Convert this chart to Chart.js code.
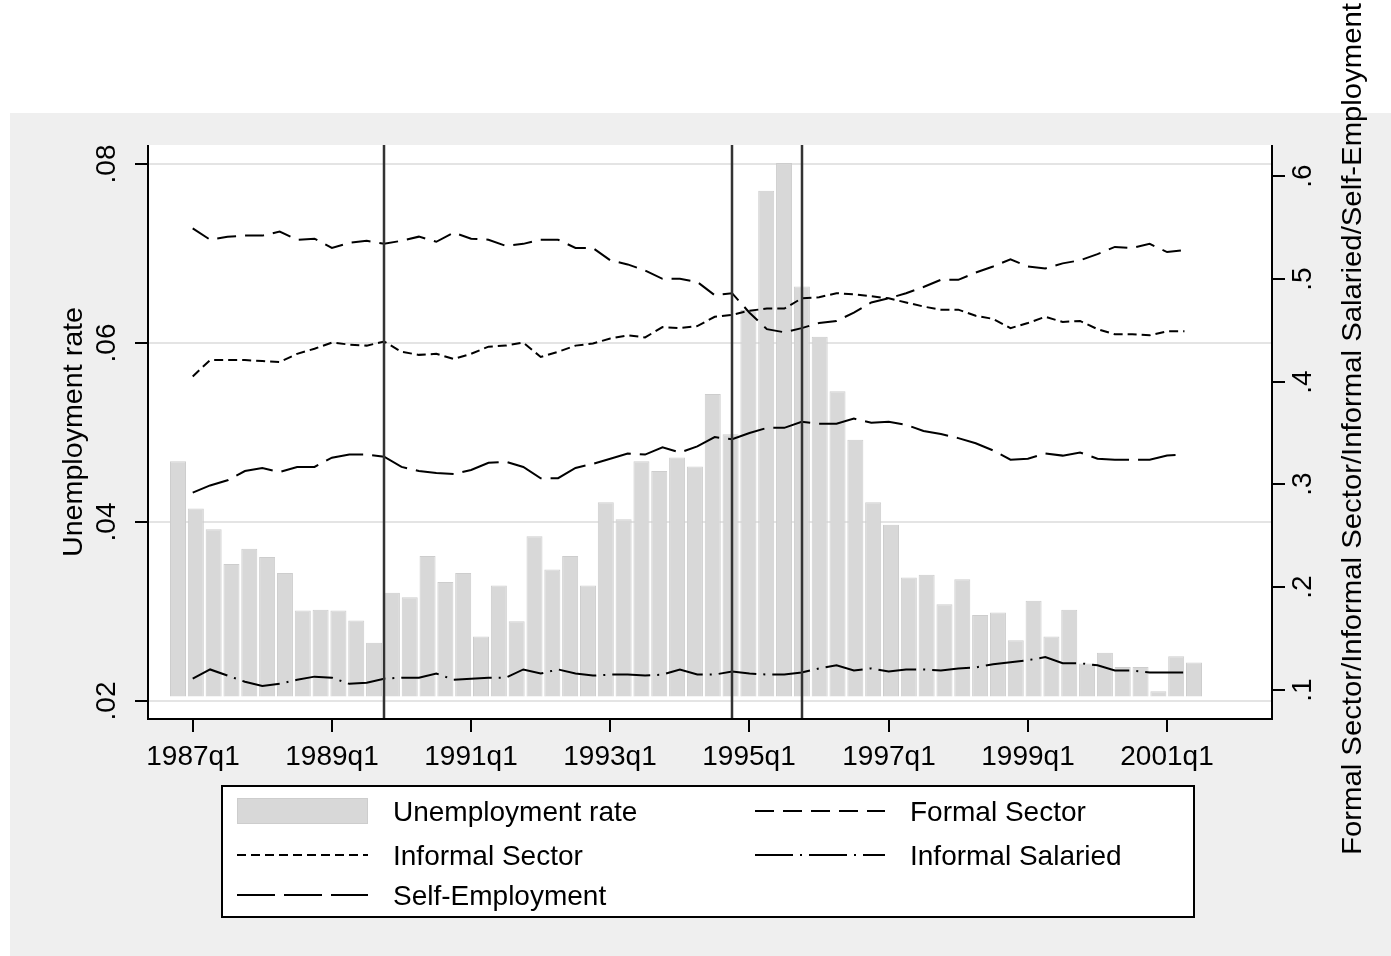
<!DOCTYPE html>
<html>
<head>
<meta charset="utf-8">
<title>Unemployment rate and employment shares</title>
<script src="https://cdn.jsdelivr.net/npm/chart.js@4.4.1/dist/chart.umd.min.js"></script>
<style>
  html, body { margin: 0; padding: 0; background: #ffffff; }
  canvas { display: block; }
</style>
</head>
<body>
<canvas id="chart" width="1391" height="956"></canvas>
<script>
// Quarterly unemployment rate (left axis), 1986q4 onwards
const unemploymentRate = [
  0.0468, 0.0415, 0.0392, 0.0353, 0.0370, 0.0361, 0.0343, 0.0301, 0.0302, 0.0301,
  0.0290, 0.0265, 0.0321, 0.0316, 0.0362, 0.0333, 0.0343, 0.0272, 0.0329, 0.0289,
  0.0384, 0.0347, 0.0362, 0.0329, 0.0422, 0.0403, 0.0468, 0.0457, 0.0472, 0.0462,
  0.0543, 0.0498, 0.0637, 0.0770, 0.0801, 0.0663, 0.0607, 0.0546, 0.0492, 0.0422,
  0.0397, 0.0338, 0.0341, 0.0308, 0.0336, 0.0296, 0.0299, 0.0268, 0.0312, 0.0272,
  0.0302, 0.0242, 0.0254, 0.0238, 0.0238, 0.0211, 0.0250, 0.0243
];

// Employment shares (right axis), 1987q1 onwards
const formalSector = [
  0.549, 0.538, 0.541, 0.542, 0.542, 0.546, 0.538, 0.539, 0.530, 0.535,
  0.537, 0.534, 0.537, 0.541, 0.536, 0.545, 0.539, 0.538, 0.532, 0.534,
  0.538, 0.538, 0.530, 0.530, 0.518, 0.514, 0.508, 0.500, 0.500, 0.497,
  0.484, 0.486, 0.467, 0.451, 0.448, 0.452, 0.457, 0.459, 0.467, 0.477,
  0.481, 0.486, 0.492, 0.499, 0.499, 0.506, 0.512, 0.519, 0.512, 0.510,
  0.515, 0.518, 0.524, 0.531, 0.530, 0.534, 0.526, 0.528
];
const informalSector = [
  0.405, 0.421, 0.421, 0.421, 0.420, 0.419, 0.427, 0.432, 0.438, 0.436,
  0.435, 0.439, 0.429, 0.426, 0.427, 0.422, 0.427, 0.434, 0.435, 0.438,
  0.424, 0.429, 0.435, 0.437, 0.442, 0.445, 0.443, 0.453, 0.452, 0.454,
  0.463, 0.465, 0.469, 0.471, 0.471, 0.481, 0.482, 0.486, 0.485, 0.483,
  0.481, 0.477, 0.473, 0.470, 0.470, 0.464, 0.461, 0.452, 0.457, 0.463,
  0.458, 0.459, 0.451, 0.446, 0.446, 0.445, 0.449, 0.449
];
const informalSalaried = [
  0.111, 0.120, 0.114, 0.108, 0.104, 0.106, 0.110, 0.113, 0.112, 0.106,
  0.107, 0.111, 0.112, 0.112, 0.116, 0.110, 0.111, 0.112, 0.112, 0.120,
  0.116, 0.120, 0.116, 0.114, 0.115, 0.115, 0.114, 0.115, 0.120, 0.115,
  0.115, 0.118, 0.116, 0.115, 0.115, 0.117, 0.121, 0.124, 0.119, 0.121,
  0.118, 0.120, 0.120, 0.119, 0.121, 0.122, 0.125, 0.127, 0.129, 0.132,
  0.126, 0.126, 0.124, 0.119, 0.119, 0.117, 0.117, 0.117
];
const selfEmployment = [
  0.292, 0.299, 0.304, 0.313, 0.316, 0.312, 0.317, 0.317, 0.326, 0.329,
  0.329, 0.327, 0.317, 0.313, 0.311, 0.310, 0.314, 0.321, 0.322, 0.317,
  0.306, 0.306, 0.316, 0.320, 0.325, 0.330, 0.329, 0.336, 0.331, 0.337,
  0.346, 0.344, 0.350, 0.355, 0.355, 0.361, 0.359, 0.359, 0.364, 0.360,
  0.361, 0.358, 0.352, 0.349, 0.345, 0.340, 0.333, 0.324, 0.325, 0.330,
  0.328, 0.331, 0.325, 0.324, 0.324, 0.324, 0.328, 0.329
];

// Axis ticks and labels
const xTickLabels = ['1987q1', '1989q1', '1991q1', '1993q1', '1995q1', '1997q1', '1999q1', '2001q1'];
const leftTicks = [0.02, 0.04, 0.06, 0.08];
const leftTickLabels = ['.02', '.04', '.06', '.08'];
const rightTicks = [0.1, 0.2, 0.3, 0.4, 0.5, 0.6];
const rightTickLabels = ['.1', '.2', '.3', '.4', '.5', '.6'];
const eventQuarters = ['1989q4', '1994q4', '1995q4'];

const leftTitle = 'Unemployment rate';
const rightTitle = 'Formal Sector/Informal Sector/Informal Salaried/Self-Employment';

const FONT = '"Liberation Sans", Arial, Helvetica, sans-serif';
const BAR_FILL = '#d8d8d8';
const BAR_EDGE = '#cdcdcd';

// Quarters counted from 1987q1
function quarterIndex(label) {
  const parts = label.split('q').map(Number);
  return (parts[0] - 1987) * 4 + (parts[1] - 1);
}

const barPoints = unemploymentRate.map((v, i) => ({ x: i, y: v }));
const asPoints = arr => arr.map((v, i) => ({ x: i, y: v }));

const seriesStyle = {
  formal:   { dash: [19, 9] },
  informal: { dash: [9, 5] },
  salaried: { dash: [38, 7, 2, 7] },
  self:     { dash: [38, 9] }
};

function lineDataset(label, data, dash) {
  return {
    type: 'line',
    label: label,
    data: asPoints(data),
    xAxisID: 'x',
    yAxisID: 'y2',
    borderColor: '#000000',
    borderWidth: 2,
    borderDash: dash,
    borderCapStyle: 'butt',
    borderJoinStyle: 'miter',
    pointRadius: 0,
    tension: 0,
    fill: false,
    order: 1
  };
}

function drawText(ctx, text, x, y, opts) {
  const o = Object.assign({ size: 28, align: 'center', rotate: false, width: null }, opts || {});
  ctx.save();
  ctx.font = o.size + 'px ' + FONT;
  ctx.fillStyle = '#000000';
  ctx.textAlign = o.align;
  ctx.textBaseline = 'alphabetic';
  ctx.translate(x, y);
  if (o.rotate) ctx.rotate(-Math.PI / 2);
  if (o.width) {
    const w = ctx.measureText(text).width;
    ctx.scale(o.width / w, 1);
  }
  ctx.fillText(text, 0, 0);
  ctx.restore();
}

function strokeLine(ctx, x1, y1, x2, y2) {
  ctx.beginPath();
  ctx.moveTo(x1, y1);
  ctx.lineTo(x2, y2);
  ctx.stroke();
}

const framePlugin = {
  id: 'frame',
  beforeDraw(chart) {
    const { ctx, chartArea: a, scales } = chart;
    ctx.save();
    ctx.fillStyle = '#ffffff';
    ctx.fillRect(0, 0, chart.width, chart.height);
    ctx.fillStyle = '#efefef';
    ctx.fillRect(10, 113, chart.width - 10, chart.height - 113);
    ctx.fillStyle = '#ffffff';
    ctx.fillRect(a.left, a.top, a.right - a.left, a.bottom - a.top);
    // horizontal grid at the left-axis ticks
    ctx.strokeStyle = '#e4e4e4';
    ctx.lineWidth = 2;
    leftTicks.forEach(v => {
      const y = Math.round(scales.y.getPixelForValue(v));
      strokeLine(ctx, a.left, y, a.right, y);
    });
    ctx.restore();
  },
  afterDatasetsDraw(chart) {
    const { ctx, chartArea: a, scales } = chart;
    ctx.save();

    // vertical reference lines
    ctx.strokeStyle = '#333333';
    ctx.lineWidth = 2.5;
    eventQuarters.forEach(q => {
      const x = Math.round(scales.x.getPixelForValue(quarterIndex(q)));
      strokeLine(ctx, x, a.top, x, a.bottom);
    });

    // axis lines
    ctx.strokeStyle = '#000000';
    ctx.lineWidth = 2;
    strokeLine(ctx, a.left, a.top, a.left, a.bottom + 1);
    strokeLine(ctx, a.right, a.top, a.right, a.bottom + 1);
    strokeLine(ctx, a.left - 1, a.bottom, a.right + 1, a.bottom);

    // left axis ticks and labels
    leftTicks.forEach((v, i) => {
      const y = Math.round(scales.y.getPixelForValue(v));
      strokeLine(ctx, a.left - 13, y, a.left, y);
      drawText(ctx, leftTickLabels[i], 115, y, { rotate: true });
    });
    // right axis ticks and labels
    rightTicks.forEach((v, i) => {
      const y = Math.round(scales.y2.getPixelForValue(v));
      strokeLine(ctx, a.right, y, a.right + 13, y);
      drawText(ctx, rightTickLabels[i], 1311, y, { rotate: true });
    });
    // bottom axis ticks and labels
    xTickLabels.forEach(lbl => {
      const x = Math.round(scales.x.getPixelForValue(quarterIndex(lbl)));
      strokeLine(ctx, x, a.bottom, x, a.bottom + 13);
      drawText(ctx, lbl, x, 765);
    });

    // axis titles
    const midY = (a.top + a.bottom) / 2;
    drawText(ctx, leftTitle, 82, midY, { rotate: true, width: 250 });
    drawText(ctx, rightTitle, 1361, midY - 3, { rotate: true, width: 852 });

    // legend
    const box = { x: 222, y: 786, w: 972, h: 131 };
    ctx.fillStyle = '#ffffff';
    ctx.fillRect(box.x, box.y, box.w, box.h);
    ctx.strokeStyle = '#000000';
    ctx.lineWidth = 2;
    ctx.strokeRect(box.x, box.y, box.w, box.h);

    const col1 = { k0: 237, k1: 368, t: 393 };
    const col2 = { k0: 755, k1: 885, t: 910 };
    const rows = [811, 855, 895];

    // bar key
    ctx.fillStyle = BAR_FILL;
    ctx.fillRect(col1.k0, rows[0] - 13, col1.k1 - col1.k0, 26);
    ctx.strokeStyle = BAR_EDGE;
    ctx.lineWidth = 1;
    ctx.strokeRect(col1.k0 + 0.5, rows[0] - 12.5, col1.k1 - col1.k0 - 1, 25);

    const ds = chart.data.datasets;
    const entries = [
      { text: ds[0].label, col: col1, row: rows[0], dash: null },
      { text: ds[1].label, col: col2, row: rows[0], dash: ds[1].borderDash },
      { text: ds[2].label, col: col1, row: rows[1], dash: ds[2].borderDash },
      { text: ds[3].label, col: col2, row: rows[1], dash: ds[3].borderDash },
      { text: ds[4].label, col: col1, row: rows[2], dash: ds[4].borderDash }
    ];
    entries.forEach(e => {
      if (e.dash) {
        ctx.save();
        ctx.strokeStyle = '#000000';
        ctx.lineWidth = 2;
        ctx.lineCap = 'butt';
        ctx.setLineDash(e.dash);
        strokeLine(ctx, e.col.k0, e.row, e.col.k1, e.row);
        ctx.restore();
      }
      drawText(ctx, e.text, e.col.t, e.row + 10, { align: 'left' });
    });

    ctx.restore();
  }
};

new Chart(document.getElementById('chart'), {
  type: 'bar',
  data: {
    datasets: [
      {
        type: 'bar',
        label: 'Unemployment rate',
        data: barPoints,
        xAxisID: 'xb',
        yAxisID: 'y',
        base: 0.0205,
        backgroundColor: BAR_FILL,
        borderColor: BAR_EDGE,
        borderWidth: 1,
        borderSkipped: 'start',
        grouped: false,
        categoryPercentage: 1.0,
        barPercentage: 0.9,
        maxBarThickness: 16,
        order: 2
      },
      lineDataset('Formal Sector', formalSector, seriesStyle.formal.dash),
      lineDataset('Informal Sector', informalSector, seriesStyle.informal.dash),
      lineDataset('Informal Salaried', informalSalaried, seriesStyle.salaried.dash),
      lineDataset('Self-Employment', selfEmployment, seriesStyle.self.dash)
    ]
  },
  options: {
    responsive: false,
    animation: false,
    devicePixelRatio: 1,
    layout: { padding: { left: 148, top: 145, right: 119, bottom: 237 } },
    plugins: {
      legend: { display: false },
      tooltip: { enabled: false },
      title: { display: false }
    },
    scales: {
      x:  { type: 'linear', display: false, offset: false, min: -2.57, max: 62.03 },
      xb: { type: 'linear', display: false, offset: false, min: -1.683, max: 61.375 },
      y:  { type: 'linear', display: false, beginAtZero: false, min: 0.017989, max: 0.082123 },
      y2: { type: 'linear', display: false, beginAtZero: false, min: 0.07179, max: 0.630156 }
    }
  },
  plugins: [framePlugin]
});
</script>
</body>
</html>
